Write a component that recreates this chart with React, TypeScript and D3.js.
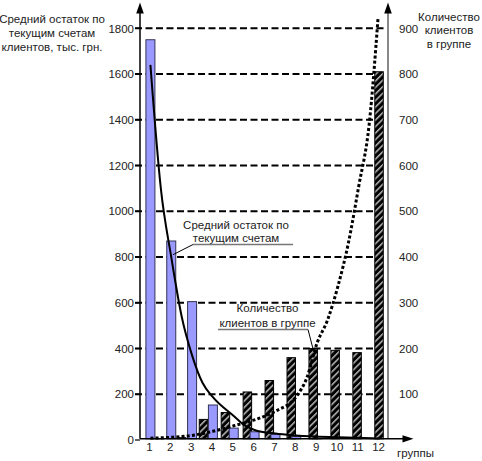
import React from 'react';
import * as d3 from 'd3';

const categories = ['1', '2', '3', '4', '5', '6', '7', '8', '9', '10', '11', '12'];
const balance = [1750, 870, 605, 153, 52, 36, 25, 15, 6, 5, 5, 4];
const clients = [2, 3, 5, 45, 60, 105, 130, 180, 200, 196, 191, 805];
const balanceTrendX = [1, 1.5, 2, 2.5, 3, 3.5, 4, 5, 5.5, 6, 7, 8, 10, 12];
const balanceTrendY = [1640, 1100, 800, 540, 370, 250, 187, 105, 65, 44, 28, 20, 12, 7];
const clientsTrendX = [1, 2, 3, 4, 5, 6, 7, 8, 8.5, 9, 9.5, 10, 10.5, 11, 11.5, 11.93];
const clientsTrendY = [4, 6, 10, 19, 31, 44, 63, 95, 135, 212, 262, 336, 430, 555, 690, 925];
const leftTicks = [0, 200, 400, 600, 800, 1000, 1200, 1400, 1600, 1800];
const rightTicks = [100, 200, 300, 400, 500, 600, 700, 800, 900];
const leftTitle = ['Средний остаток по', 'текущим счетам', 'клиентов, тыс. грн.'];
const rightTitle = ['Количество', 'клиентов', 'в группе'];
const balanceNote = ['Средний остаток по', 'текущим счетам'];
const clientsNote = ['Количество', 'клиентов в группе'];
const xTitle = 'группы';

const W = 482;
const H = 461;
const X0 = 140;
const X1 = 388;
const FONT = 'Arial, "Liberation Sans", sans-serif';

export default function App() {
  const yL = d3.scaleLinear().domain([0, 1800]).range([440, 28.3]);
  const yR = d3.scaleLinear().domain([0, 900]).range([440, 28.3]);
  const xBlue = d3.scaleBand().domain(categories).range([X0, 390]);
  const xHatch = d3.scaleBand().domain(categories).range([126.7, 390]);
  const xLin = d3.scaleLinear().domain([0.5, 12.5]).range([X0, 390]);
  const axisY = 438.8;

  const balLine = d3
    .line<number>()
    .x((_, i) => xLin(balanceTrendX[i]))
    .y((d) => yL(d))
    .curve(d3.curveMonotoneX)(balanceTrendY) || '';
  const cliLine = d3
    .line<number>()
    .x((_, i) => xLin(clientsTrendX[i]))
    .y((d) => yR(d))
    .curve(d3.curveMonotoneX)(clientsTrendY) || '';

  const bw = 9;
  const hw = 8.5;

  const balAnchor = [xLin(2.08), yL(810)];
  const cliAnchor = [xLin(8.8), yR(200)];

  return (
    <svg
      width={W}
      height={H}
      style={{ position: 'absolute', left: 0, top: 0, background: '#fff' }}
      fontFamily={FONT}
    >
      <defs>
        <pattern
          id="hatch"
          patternUnits="userSpaceOnUse"
          width={4.6}
          height={4.6}
          patternTransform="rotate(45)"
        >
          <rect width={4.6} height={4.6} fill="#000" />
          <line x1={0.8} y1={0} x2={0.8} y2={4.6} stroke="#fff" strokeWidth={1.1} />
        </pattern>
      </defs>
      <rect width={W} height={H} fill="#fff" />

      {/* gridlines */}
      {leftTicks
        .filter((t) => t > 0)
        .map((t) => (
          <line
            key={'g' + t}
            x1={X0 - 5}
            x2={X1}
            y1={yL(t)}
            y2={yL(t)}
            stroke="#000"
            strokeWidth={2}
            strokeDasharray="7,3.5"
          />
        ))}

      {/* hatched bars: clients */}
      {clients.map((v, i) => (
        <rect
          key={'h' + i}
          x={(xHatch(categories[i]) as number) + xHatch.bandwidth() / 2 - hw / 2}
          y={yR(v)}
          width={hw}
          height={Math.max(0, axisY - yR(v))}
          fill="url(#hatch)"
          stroke="#000"
          strokeWidth={1}
        />
      ))}

      {/* blue bars: balance */}
      {balance.map((v, i) => (
        <rect
          key={'b' + i}
          x={(xBlue(categories[i]) as number) + xBlue.bandwidth() / 2 - bw / 2}
          y={yL(v)}
          width={bw}
          height={Math.max(0, axisY - yL(v))}
          fill="#9999ff"
          stroke="#333355"
          strokeWidth={1}
        />
      ))}

      {/* trend lines */}
      <path d={balLine} fill="none" stroke="#000" strokeWidth={2} />
      <path
        d={cliLine}
        fill="none"
        stroke="#000"
        strokeWidth={3}
        strokeDasharray="3,2.2"
      />

      {/* axes */}
      <line x1={X0} x2={X0} y1={axisY} y2={8} stroke="#000" strokeWidth={1.5} />
      <path d={`M${X0},2.5 L${X0 - 3.8},13.5 L${X0 + 3.8},13.5 Z`} fill="#000" />
      <line x1={X1} x2={X1} y1={axisY} y2={8} stroke="#888" strokeWidth={2} />
      <path d={`M${X1},2.5 L${X1 - 3.8},13.5 L${X1 + 3.8},13.5 Z`} fill="#000" />
      <line x1={X0} x2={406} y1={axisY} y2={axisY} stroke="#000" strokeWidth={1.5} />
      <path d={`M413.5,${axisY} L402.5,${axisY - 3.6} L402.5,${axisY + 3.6} Z`} fill="#000" />

      {/* left ticks & labels */}
      {leftTicks.map((t) => (
        <g key={'lt' + t}>
          <line x1={X0 - 5} x2={X0} y1={yL(t)} y2={yL(t)} stroke="#000" strokeWidth={1.2} />
          <text x={134} y={yL(t) + 4.2} textAnchor="end" fontSize={11.5} fill="#222">
            {t}
          </text>
        </g>
      ))}

      {/* right labels */}
      {rightTicks.map((t) => (
        <text key={'rt' + t} x={399} y={yR(t) + 4.2} fontSize={11.5} fill="#222">
          {t}
        </text>
      ))}

      {/* category labels */}
      {categories.map((c, i) => (
        <text
          key={'c' + c}
          x={xLin(i + 1) - 1}
          y={451}
          textAnchor="middle"
          fontSize={11.5}
          fill="#222"
        >
          {c}
        </text>
      ))}
      <text x={397} y={456.5} fontSize={11.5} fill="#222">
        {xTitle}
      </text>

      {/* titles */}
      {leftTitle.map((s, i) => (
        <text key={'lti' + i} x={52} y={22.5 + i * 14} textAnchor="middle" fontSize={11.5} fill="#222">
          {s}
        </text>
      ))}
      {rightTitle.map((s, i) => (
        <text key={'rti' + i} x={449} y={20.5 + i * 13.8} textAnchor="middle" fontSize={11.5} fill="#222">
          {s}
        </text>
      ))}

      {/* annotations */}
      {balanceNote.map((s, i) => (
        <text key={'bn' + i} x={236} y={228.5 + i * 13.8} textAnchor="middle" fontSize={11.5} fill="#222">
          {s}
        </text>
      ))}
      <line x1={193} x2={293} y1={244.5} y2={244.5} stroke="#777" strokeWidth={1.5} />
      <line x1={193} y1={244.5} x2={balAnchor[0]} y2={balAnchor[1]} stroke="#000" strokeWidth={1} />

      {clientsNote.map((s, i) => (
        <text key={'cn' + i} x={267.5} y={312 + i * 14.5} textAnchor="middle" fontSize={11.5} fill="#222">
          {s}
        </text>
      ))}
      <line x1={218} x2={308} y1={329.5} y2={329.5} stroke="#777" strokeWidth={1.5} />
      <line x1={308} y1={329.5} x2={cliAnchor[0]} y2={cliAnchor[1]} stroke="#000" strokeWidth={1} />
    </svg>
  );
}
